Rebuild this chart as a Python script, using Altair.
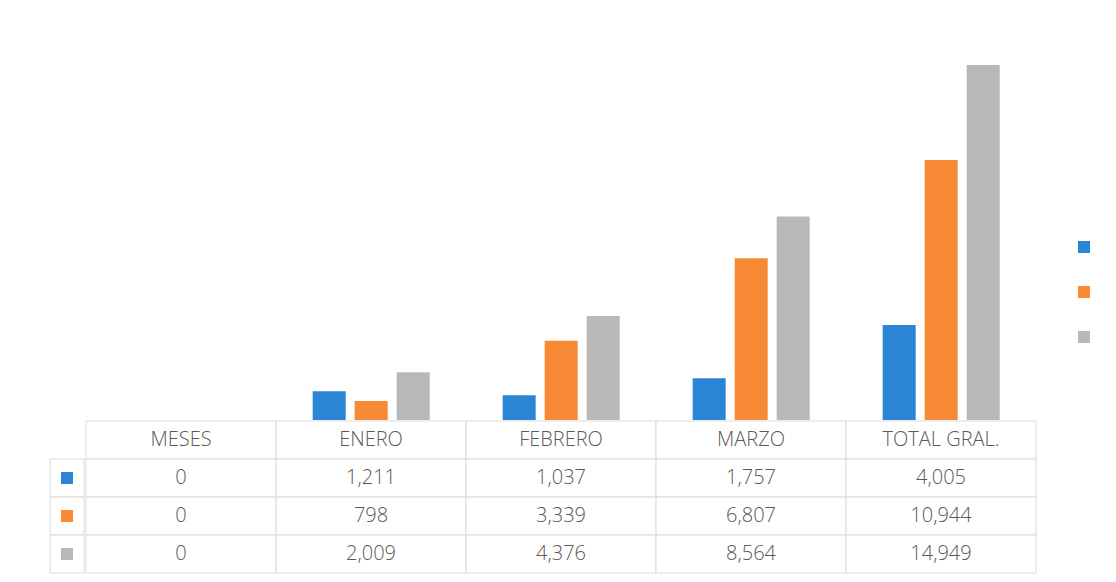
import altair as alt
import pandas as pd

categories = ["MESES", "ENERO", "FEBRERO", "MARZO", "TOTAL GRAL."]
series_names = ["Serie 1", "Serie 2", "Serie 3"]
serie_1 = [0, 1211, 1037, 1757, 4005]
serie_2 = [0, 798, 3339, 6807, 10944]
serie_3 = [0, 2009, 4376, 8564, 14949]
colors = ["#2a86d4", "#f88a35", "#b8b8b8"]

rows = []
for name, vals in zip(series_names, [serie_1, serie_2, serie_3]):
    for c, v in zip(categories, vals):
        rows.append({"cat": c, "serie": name, "valor": v})
df = pd.DataFrame(rows)

header = pd.DataFrame({"cat": categories, "fila": "HEADER", "texto": categories})
body = df.assign(fila=df["serie"], texto=df["valor"].map(lambda v: f"{v:,}"))
table_df = pd.concat([header, body[["cat", "fila", "texto"]]], ignore_index=True)
row_order = ["HEADER"] + series_names
keys_df = pd.DataFrame({"fila": series_names, "serie": series_names})

FONT = "Open Sans"
TEXT_COLOR = "#595959"
GRID = "#dadada"

color_scale = alt.Scale(domain=series_names, range=colors)
x_scale = alt.Scale(domain=categories, paddingInner=0, paddingOuter=0)
y_tab = alt.Scale(domain=row_order, paddingInner=0, paddingOuter=0)

bars = alt.Chart(df).mark_bar().encode(
    x=alt.X("cat:N", scale=x_scale, axis=None, sort=categories),
    xOffset=alt.XOffset("serie:N", sort=series_names,
                        scale=alt.Scale(paddingInner=0.214, paddingOuter=0.869, align=0.53)),
    y=alt.Y("valor:Q", scale=alt.Scale(domain=[0, 16000], nice=False), axis=None),
    color=alt.Color(
        "serie:N", scale=color_scale,
        legend=alt.Legend(orient="none", legendX=1028, legendY=201, title=None,
                          labelExpr="''", symbolType="square", symbolSize=144,
                          rowPadding=33, symbolStrokeWidth=0, labelFontSize=1,
                          symbolOpacity=1),
    ),
).properties(width=950, height=380)

spacer = alt.Chart(keys_df).mark_point(opacity=0).properties(width=34, height=380)

cells = alt.Chart(table_df).mark_rect(fill="white", stroke=GRID, strokeWidth=1).encode(
    x=alt.X("cat:N", scale=x_scale, axis=None, sort=categories),
    y=alt.Y("fila:N", scale=y_tab, axis=None, sort=row_order),
)
texts = alt.Chart(table_df).mark_text(font=FONT, fontSize=20, fontWeight=300,
                                      color=TEXT_COLOR).encode(
    x=alt.X("cat:N", scale=x_scale, axis=None, sort=categories),
    y=alt.Y("fila:N", scale=y_tab, axis=None, sort=row_order),
    text="texto:N",
)
table = (cells + texts).properties(width=950, height=152)

key_cells = alt.Chart(keys_df).mark_rect(fill="white", stroke=GRID, strokeWidth=1).encode(
    y=alt.Y("fila:N", scale=y_tab, axis=None, sort=row_order),
)
key_marks = alt.Chart(keys_df).mark_square(size=144, opacity=1).encode(
    y=alt.Y("fila:N", scale=y_tab, axis=None, sort=row_order),
    color=alt.Color("serie:N", scale=color_scale, legend=None),
)
keys = (key_cells + key_marks).properties(width=34, height=152)

top = alt.hconcat(spacer, bars, spacing=0)
bottom = alt.hconcat(keys, table, spacing=0)
chart = alt.vconcat(top, bottom, spacing=0).resolve_scale(color="independent").properties(
    padding={"left": 41, "top": 32, "right": 0, "bottom": 0}
).configure_view(stroke=None)

chart.save("out.html", embed_options={"renderer": "svg", "actions": False})
